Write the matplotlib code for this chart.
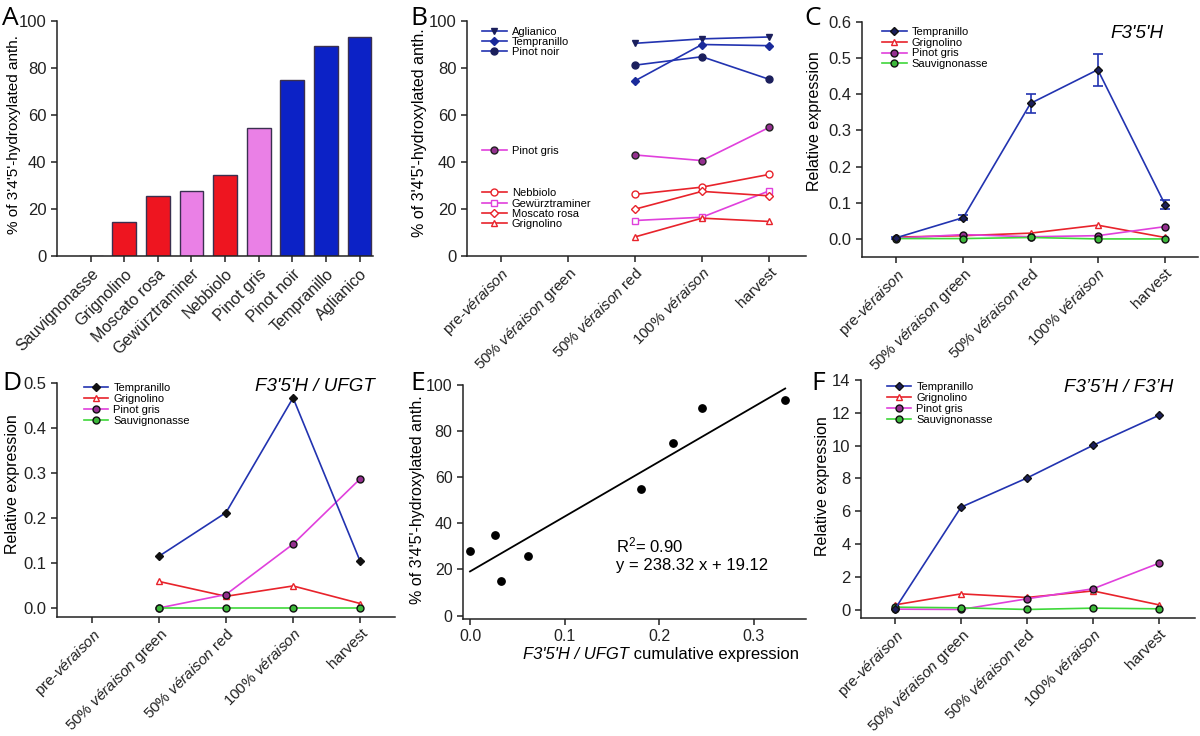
import matplotlib
matplotlib.use("Agg")
import matplotlib.pyplot as plt
import numpy as np

plt.rcParams["font.family"] = ["Liberation Sans", "DejaVu Sans"]
plt.rcParams["mathtext.fontset"] = "custom"
plt.rcParams["mathtext.rm"] = "Liberation Sans"
plt.rcParams["mathtext.it"] = "Liberation Sans:italic"

# ------------------------------------------------------------------
# Data
# ------------------------------------------------------------------
STAGES = ["pre-véraison", "50% véraison green", "50% véraison red",
          "100% véraison", "harvest"]

# A: % of 3'4'5'-hydroxylated anthocyanins at harvest
CULTIVARS = ["Sauvignonasse", "Grignolino", "Moscato rosa", "Gewürztraminer",
             "Nebbiolo", "Pinot gris", "Pinot noir", "Tempranillo", "Aglianico"]
PCT_HARVEST = [0.0, 14.5, 25.5, 27.5, 34.5, 54.5, 75.0, 89.5, 93.0]
BAR_GROUP = ["red", "red", "red", "pink", "red", "pink", "blue", "blue", "blue"]

# B: % of 3'4'5'-hydroxylated anth. over time (stages 3..5 only)
B_STAGE_IDX = [2, 3, 4]
B_AGLIANICO = [90.5, 92.4, 93.2]
B_TEMPRANILLO = [74.5, 90.0, 89.5]
B_PINOT_NOIR = [81.2, 84.8, 75.2]
B_PINOT_GRIS = [43.0, 40.6, 54.7]
B_NEBBIOLO = [26.2, 29.3, 34.7]
B_GEWURZ = [15.1, 16.5, 27.7]
B_MOSCATO = [19.9, 27.5, 25.6]
B_GRIGNOLINO = [8.1, 16.1, 14.7]

# C: F3'5'H relative expression
C_TEMPRANILLO = [0.003, 0.059, 0.375, 0.468, 0.095]
C_TEMPRANILLO_ERR = [0.002, 0.006, 0.026, 0.044, 0.013]
C_GRIGNOLINO = [0.005, 0.009, 0.016, 0.038, 0.004]
C_PINOT_GRIS = [0.002, 0.012, 0.006, 0.009, 0.034]
C_SAUVIGNONASSE = [0.001, 0.001, 0.004, 0.000, 0.000]

# D: F3'5'H / UFGT (stages 2..5)
D_STAGE_IDX = [1, 2, 3, 4]
D_TEMPRANILLO = [0.115, 0.212, 0.467, 0.104]
D_GRIGNOLINO = [0.059, 0.026, 0.049, 0.010]
D_PINOT_GRIS = [0.000, 0.030, 0.142, 0.287]
D_SAUVIGNONASSE = [0.000, 0.000, 0.000, 0.000]

# E: cumulative expression vs % tri-hydroxylated
E_X = [0.000, 0.026, 0.033, 0.061, 0.181, 0.215, 0.245, 0.333]
E_Y = [28.0, 35.0, 15.0, 26.0, 55.0, 75.0, 90.0, 93.5]
E_SLOPE = 238.32
E_INTERCEPT = 19.12
E_R2 = 0.90

# F: F3'5'H / F3'H
F_TEMPRANILLO = [0.05, 6.25, 8.03, 10.02, 11.85]
F_GRIGNOLINO = [0.30, 0.97, 0.75, 1.15, 0.30]
F_PINOT_GRIS = [0.04, 0.02, 0.67, 1.28, 2.84]
F_SAUVIGNONASSE = [0.16, 0.12, 0.02, 0.10, 0.06]

# ------------------------------------------------------------------
# Colours
# ------------------------------------------------------------------
BLUE_LINE = "#2233b0"
NAVY = "#1b1f5c"
RED = "#e8232b"
MAGENTA = "#e040dc"
PURPLE = "#94308f"
GREEN = "#3ed83a"
GREEN_FILL = "#3cb83a"
BAR_COLORS = {"red": "#ee1520", "pink": "#ea80e6", "blue": "#0c22c6"}

fig = plt.figure(figsize=(12, 7.36), dpi=100)


def add_axes(left, right, top, bottom):
    return fig.add_axes([left / 1200, 1 - bottom / 736,
                         (right - left) / 1200, (bottom - top) / 736])


def style(ax, labelsize=12):
    for s in ("top", "right"):
        ax.spines[s].set_visible(False)
    for s in ("left", "bottom"):
        ax.spines[s].set_linewidth(1.1)
        ax.spines[s].set_color("#222222")
    ax.tick_params(direction="out", length=4, width=1.1, labelsize=labelsize,
                   colors="#222222")


def stage_label(s):
    return s.replace("véraison", r"$\mathit{véraison}$")


def stage_axis(ax, xlim):
    ax.set_xlim(*xlim)
    ax.set_xticks(range(len(STAGES)))
    ax.set_xticklabels([stage_label(s) for s in STAGES], rotation=45,
                       ha="right", rotation_mode="anchor", fontsize=11)
    ax.tick_params(axis="x", pad=2.5)


def ylabel(ax, text, x, y, size=12):
    # x is the right edge of the rotated label, in axes fraction
    ax.set_ylabel(text, fontsize=size)
    ax.yaxis.set_label_coords(x, y)


def small_legend(ax, handles, anchor, spacing=0.08):
    leg = ax.legend(handles=handles, loc="upper left", bbox_to_anchor=anchor,
                    frameon=False, fontsize=8, handlelength=2.2,
                    handletextpad=0.45, labelspacing=spacing, borderpad=0,
                    borderaxespad=0)
    return leg


def panel_letter(x, y, s):
    fig.text(x / 1200, 1 - y / 736, s, fontsize=19, family="Open Sans",
             va="baseline", ha="left")


# ------------------------------------------------------------------
# A
# ------------------------------------------------------------------
axA = add_axes(57, 373, 21, 256)
style(axA)
xa = np.arange(len(CULTIVARS))
axA.bar(xa, PCT_HARVEST, width=0.71,
        color=[BAR_COLORS[g] for g in BAR_GROUP],
        edgecolor="#3a3050", linewidth=1.0)
axA.set_xlim(-1, 8.4)
axA.set_ylim(0, 100)
axA.set_yticks(range(0, 101, 20))
axA.set_xticks(xa)
axA.set_xticklabels(CULTIVARS, rotation=45, ha="right",
                    rotation_mode="anchor", fontsize=11.5)
ylabel(axA, "% of 3'4'5'-hydroxylated anth.", -0.115, 0.515, size=11)

# ------------------------------------------------------------------
# B
# ------------------------------------------------------------------
axB = add_axes(467, 806, 21, 256)
style(axB)
lw = 1.2
ms = 5
hB1 = []
hB1 += axB.plot(B_STAGE_IDX, B_AGLIANICO, color=BLUE_LINE, lw=lw, marker="v",
                ms=ms, mfc=NAVY, mec=NAVY, label="Aglianico")
hB1 += axB.plot(B_STAGE_IDX, B_TEMPRANILLO, color=BLUE_LINE, lw=lw, marker="D",
                ms=ms - 0.5, mfc="#1a2a9a", mec="#1a2a9a", label="Tempranillo")
hB1 += axB.plot(B_STAGE_IDX, B_PINOT_NOIR, color=BLUE_LINE, lw=lw, marker="o",
                ms=ms, mfc=NAVY, mec=NAVY, label="Pinot noir")
hB2 = axB.plot(B_STAGE_IDX, B_PINOT_GRIS, color=MAGENTA, lw=lw, marker="o",
               ms=ms, mfc=PURPLE, mec="#222222", label="Pinot gris")
hB3 = []
hB3 += axB.plot(B_STAGE_IDX, B_NEBBIOLO, color=RED, lw=lw, marker="o",
                ms=ms, mfc="white", mec=RED, label="Nebbiolo")
hB3 += axB.plot(B_STAGE_IDX, B_GEWURZ, color=MAGENTA, lw=lw, marker="s",
                ms=ms, mfc="white", mec=MAGENTA, label="Gewürztraminer")
hB3 += axB.plot(B_STAGE_IDX, B_MOSCATO, color=RED, lw=lw, marker="D",
                ms=ms - 0.5, mfc="white", mec=RED, label="Moscato rosa")
hB3 += axB.plot(B_STAGE_IDX, B_GRIGNOLINO, color=RED, lw=lw, marker="^",
                ms=ms, mfc="white", mec=RED, label="Grignolino")
stage_axis(axB, (-0.5, 4.55))
axB.set_ylim(0, 100)
axB.set_yticks(range(0, 101, 20))
ylabel(axB, "% of 3'4'5'-hydroxylated anth.", -0.118, 0.525, size=11.5)
l1 = small_legend(axB, hB1, (0.045, 0.975), spacing=0.02)
axB.add_artist(l1)
l2 = small_legend(axB, hB2, (0.045, 0.467), spacing=0.02)
axB.add_artist(l2)
small_legend(axB, hB3, (0.045, 0.288), spacing=0.02)


def four_series(ax, xs, temp, grig, pgris, sauv, temp_fill=NAVY, temp_err=None):
    handles = []
    if temp_err is not None:
        ax.errorbar(xs, temp, yerr=temp_err, fmt="none", ecolor=BLUE_LINE,
                    elinewidth=1.2, capsize=3.5, capthick=1.2, zorder=3)
    handles += ax.plot(xs, temp, color=BLUE_LINE, lw=lw, marker="D",
                       ms=ms - 0.5, mfc=temp_fill, mec="#111111",
                       label="Tempranillo", zorder=4)
    handles += ax.plot(xs, grig, color=RED, lw=lw, marker="^", ms=ms,
                       mfc="white", mec=RED, label="Grignolino", zorder=3)
    handles += ax.plot(xs, pgris, color=MAGENTA, lw=lw, marker="o", ms=ms,
                       mfc=PURPLE, mec="#111111", label="Pinot gris", zorder=3)
    handles += ax.plot(xs, sauv, color=GREEN, lw=lw, marker="o", ms=ms,
                       mfc=GREEN_FILL, mec="#111111", label="Sauvignonasse",
                       zorder=3)
    return handles


# ------------------------------------------------------------------
# C
# ------------------------------------------------------------------
axC = add_axes(862, 1198, 22, 257)
style(axC, labelsize=12)
hC = four_series(axC, range(5), C_TEMPRANILLO, C_GRIGNOLINO, C_PINOT_GRIS,
                 C_SAUVIGNONASSE, temp_err=C_TEMPRANILLO_ERR)
stage_axis(axC, (-0.506, 4.49))
axC.set_ylim(-0.05, 0.6)
axC.set_yticks(np.arange(0, 0.61, 0.1))
axC.set_yticklabels([f"{v:.1f}" for v in np.arange(0, 0.61, 0.1)])
ylabel(axC, "Relative expression", -0.120, 0.579, size=11.5)
small_legend(axC, hC, (0.06, 0.98))
axC.text(0.896, 0.953, "F3'5'H", transform=axC.transAxes, ha="right",
         va="center", fontsize=13.5, style="italic")

# ------------------------------------------------------------------
# D
# ------------------------------------------------------------------
axD = add_axes(57, 395, 383, 617)
style(axD, labelsize=12)
hD = four_series(axD, D_STAGE_IDX, D_TEMPRANILLO, D_GRIGNOLINO, D_PINOT_GRIS,
                 D_SAUVIGNONASSE, temp_fill="#111111")
stage_axis(axD, (-0.52, 4.52))
axD.set_ylim(-0.02, 0.5)
axD.set_yticks(np.arange(0, 0.51, 0.1))
axD.set_yticklabels([f"{v:.1f}" for v in np.arange(0, 0.51, 0.1)])
ylabel(axD, "Relative expression", -0.108, 0.568, size=11.5)
small_legend(axD, hD, (0.08, 1.0))
axD.text(0.941, 0.985, "F3'5'H / UFGT", transform=axD.transAxes, ha="right",
         va="center", fontsize=13.5, style="italic")

# ------------------------------------------------------------------
# E
# ------------------------------------------------------------------
axE = add_axes(463, 806, 385, 619)
style(axE, labelsize=11.5)
axE.scatter(E_X, E_Y, s=28, color="black", zorder=3)
fit_x = np.array([min(E_X), max(E_X)])
axE.plot(fit_x, E_SLOPE * fit_x + E_INTERCEPT, color="black", lw=1.3)
axE.set_xlim(-0.0074, 0.355)
axE.set_ylim(-1.5, 100)
axE.set_xticks([0.0, 0.1, 0.2, 0.3])
axE.set_xticklabels(["0.0", "0.1", "0.2", "0.3"])
axE.set_yticks(range(0, 101, 20))
ylabel(axE, "% of 3'4'5'-hydroxylated anth.", -0.110, 0.51, size=11.5)
axE.text(0.154, 30.3, f"R$^{{2}}$= {E_R2:.2f}", fontsize=12, va="center")
axE.text(0.154, 21.5, f"y = {E_SLOPE:.2f} x + {E_INTERCEPT:.2f}",
         fontsize=12, va="center")
t1 = axE.text(0.175, -0.12, "F3'5'H / UFGT", transform=axE.transAxes,
              fontsize=12, style="italic", ha="left", va="top")
axE.annotate(" cumulative expression", xy=(1, 0), xycoords=t1, fontsize=12,
             ha="left", va="bottom")

# ------------------------------------------------------------------
# F
# ------------------------------------------------------------------
axF = add_axes(861, 1195, 380, 618)
style(axF, labelsize=12)
hF = four_series(axF, range(5), F_TEMPRANILLO, F_GRIGNOLINO, F_PINOT_GRIS,
                 F_SAUVIGNONASSE)
stage_axis(axF, (-0.515, 4.545))
axF.set_ylim(-0.5, 14)
axF.set_yticks(range(0, 15, 2))
ylabel(axF, "Relative expression", -0.092, 0.555, size=11.5)
small_legend(axF, hF, (0.078, 0.99))
axF.text(0.934, 0.97, "F3’5’H / F3’H", transform=axF.transAxes, ha="right",
         va="center", fontsize=13.5, style="italic")

# panel letters
panel_letter(2, 25, "A")
panel_letter(410, 25, "B")
panel_letter(804, 25, "C")
panel_letter(2, 390, "D")
panel_letter(410, 390, "E")
panel_letter(811, 390, "F")

fig.savefig("out.png", dpi=100)
